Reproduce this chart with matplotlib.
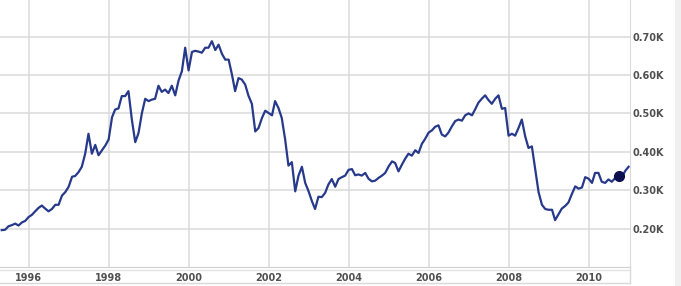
import pandas as pd
import numpy as np
import matplotlib
matplotlib.use("Agg")
import matplotlib.pyplot as plt
import matplotlib.dates as mdates
from matplotlib.lines import Line2D
from matplotlib.patches import Rectangle

# monthly values, May 1995 .. Jan 2011 (thousands)
start_month = "1995-05-01"
values = [
    0.196, 0.197, 0.206, 0.209, 0.213, 0.208, 0.216, 0.220,          # 1995
    0.230, 0.236, 0.245, 0.254, 0.260, 0.252, 0.245, 0.251, 0.262, 0.262, 0.286, 0.295,  # 1996
    0.309, 0.335, 0.337, 0.347, 0.361, 0.395, 0.447, 0.395, 0.418, 0.391, 0.404, 0.416,  # 1997
    0.432, 0.490, 0.510, 0.513, 0.545, 0.545, 0.558, 0.484, 0.425, 0.449, 0.501, 0.538,  # 1998
    0.532, 0.536, 0.538, 0.572, 0.556, 0.562, 0.553, 0.572, 0.547, 0.585, 0.610, 0.671,  # 1999
    0.612, 0.660, 0.663, 0.661, 0.658, 0.671, 0.671, 0.688, 0.665, 0.679, 0.655, 0.640,  # 2000
    0.640, 0.600, 0.558, 0.592, 0.588, 0.575, 0.546, 0.525, 0.453, 0.462, 0.488, 0.507,  # 2001
    0.501, 0.495, 0.532, 0.514, 0.488, 0.432, 0.364, 0.373, 0.297, 0.338, 0.361, 0.319,  # 2002
    0.297, 0.271, 0.251, 0.283, 0.282, 0.293, 0.315, 0.329, 0.309, 0.329, 0.334, 0.338,  # 2003
    0.353, 0.355, 0.339, 0.341, 0.338, 0.345, 0.330, 0.323, 0.325, 0.332, 0.338, 0.345,  # 2004
    0.362, 0.375, 0.371, 0.349, 0.366, 0.382, 0.395, 0.390, 0.404, 0.397, 0.421, 0.434,  # 2005
    0.450, 0.456, 0.465, 0.469, 0.445, 0.440, 0.450, 0.466, 0.480, 0.484, 0.481, 0.495,  # 2006
    0.500, 0.495, 0.510, 0.528, 0.538, 0.547, 0.535, 0.525, 0.538, 0.547, 0.512, 0.514,  # 2007
    0.442, 0.447, 0.442, 0.462, 0.484, 0.440, 0.410, 0.414, 0.354, 0.295, 0.262, 0.251,  # 2008
    0.249, 0.249, 0.222, 0.237, 0.252, 0.259, 0.268, 0.290, 0.310, 0.304, 0.307, 0.334,  # 2009
    0.330, 0.319, 0.345, 0.345, 0.322, 0.319, 0.328, 0.322, 0.332, 0.338, 0.334, 0.350,  # 2010
    0.361,                                                             # 2011
]
marker_date = "2010-10-01"
y_ticks = [0.2, 0.3, 0.4, 0.5, 0.6, 0.7]

dates = pd.date_range(start_month, periods=len(values), freq="MS")
series = pd.Series(values, index=dates)

W, H = 681, 286
fig = plt.figure(figsize=(W / 100, H / 100), dpi=100)
ax = fig.add_axes([0, 1 - 267 / H, 630 / W, 267 / H])

grid_c = "#dadada"
ax.plot(series.index, series.values, color="#27398a", lw=1.6, solid_joinstyle="round", zorder=3)
md = pd.Timestamp(marker_date)
ax.plot([md], [series[md]], "o", color="#0b0f4e", ms=7, zorder=4)

ax.set_xlim(pd.Timestamp("1995-04-15"), pd.Timestamp("2011-01-14"))
ax.set_ylim(0.10, 0.7953)

ax.xaxis.set_major_locator(mdates.YearLocator(2))
ax.xaxis.set_major_formatter(mdates.DateFormatter("%Y"))
ax.set_yticks(y_ticks)
ax.set_yticklabels([f"{v:.2f}K" for v in y_ticks])
ax.yaxis.tick_right()
ax.grid(True, color=grid_c, lw=1.1)
ax.set_axisbelow(True)

ax.tick_params(axis="both", length=0, labelsize=7, labelcolor="#505050")
ax.tick_params(axis="x", pad=4.5)
ax.tick_params(axis="y", pad=2)
for lab in ax.get_xticklabels() + ax.get_yticklabels():
    lab.set_fontweight("bold")

for s in ["top", "left"]:
    ax.spines[s].set_visible(False)
ax.spines["bottom"].set_color("#cfcfcf")
ax.spines["right"].set_color(grid_c)

# label band under the plot and right border
def fx(px):
    return px / W

def fy(py):
    return 1 - py / H

fig.add_artist(Line2D([0, fx(630)], [fy(270), fy(270)], color="#e2e2e2", lw=1))
fig.add_artist(Line2D([0, fx(630)], [fy(283), fy(283)], color="#d8d8d8", lw=1))
fig.add_artist(Line2D([fx(630), fx(630)], [fy(267), fy(283)], color=grid_c, lw=1))
fig.add_artist(Rectangle((fx(675), 0), fx(6), 1, color="#f0f0f0", lw=0))

fig.savefig("out.png", dpi=100)
